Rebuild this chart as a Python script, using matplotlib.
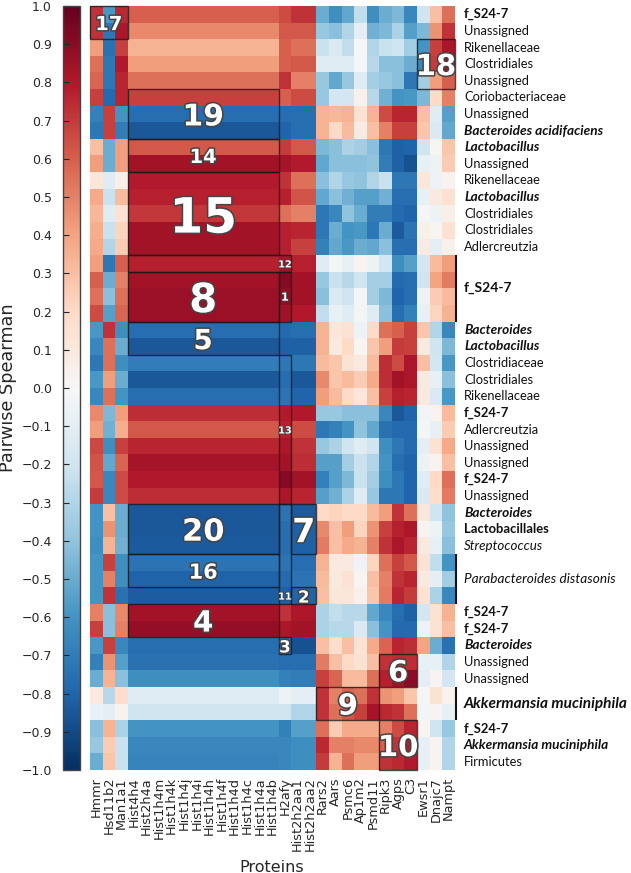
import matplotlib
matplotlib.use("Agg")
import matplotlib.pyplot as plt
import matplotlib.patheffects as pe
from matplotlib.patches import Rectangle
import numpy as np

proteins = ["Hmmr","Hsd11b2","Man1a1","Hist4h4","Hist2h4a","Hist1h4m","Hist1h4k","Hist1h4j","Hist1h4i","Hist1h4h",
            "Hist1h4f","Hist1h4d","Hist1h4c","Hist1h4a","Hist1h4b","H2afy","Hist2h2aa1","Hist2h2aa2","Rars2","Aars",
            "Psmc6","Ap1m2","Psmd11","Ripk3","Agps","C3","Ewsr1","Dnajc7","Nampt"]

taxa = ["f_S24-7","Unassigned","Rikenellaceae","Clostridiales","Unassigned","Coriobacteriaceae","Unassigned",
        "Bacteroides acidifaciens","Lactobacillus","Unassigned","Rikenellaceae","Lactobacillus","Clostridiales",
        "Clostridiales","Adlercreutzia","","","","","Bacteroides","Lactobacillus","Clostridiaceae","Clostridiales",
        "Rikenellaceae","f_S24-7","Adlercreutzia","Unassigned","Unassigned","f_S24-7","Unassigned","Bacteroides",
        "Lactobacillales","Streptococcus","","","","f_S24-7","f_S24-7","Bacteroides","Unassigned","Unassigned","","",
        "f_S24-7","Akkermansia muciniphila","Firmicutes"]
group_labels = ["f_S24-7","Parabacteroides distasonis","Akkermansia muciniphila"]
bold_taxa = ["f_S24-7","Lactobacillales"]
bold_italic_taxa = ["Bacteroides acidifaciens","Lactobacillus","Bacteroides","Akkermansia muciniphila"]
italic_taxa = ["Streptococcus"]

hmmr = [.72,.72,.42,.55,.58,.68,-.68,-.72,.30,.42,.12,.38,.33,.36,.38,.42,.60,.55,.65,-.58,-.65,-.72,-.58,-.65,.48,.42,.66,.63,.62,.70,-.60,-.60,-.62,-.60,-.60,-.60,.50,.68,-.58,-.68,-.50,.10,-.08,-.42,-.38,-.50]
hsd11b2 = [-.58,-.72,-.75,-.72,-.72,-.78,.68,.68,-.50,-.50,-.12,-.22,-.12,-.22,-.30,-.72,-.50,-.42,-.55,.72,.55,.55,.42,.55,-.45,-.48,-.62,-.52,-.65,-.65,.30,.45,.35,.68,.50,.72,-.42,-.42,.68,.45,.35,-.28,-.10,.35,.25,.28]
man1a1 = [.75,.82,.68,.80,.76,.76,-.60,-.70,.42,.42,.06,.32,.15,.22,.25,.60,.50,.55,.58,-.62,-.50,-.62,-.50,-.60,.42,.36,.68,.58,.65,.65,-.50,-.50,-.48,-.62,-.62,-.75,.48,.50,-.65,-.55,-.42,.18,.04,-.32,-.22,-.22]
hist_h4 = [.60,.48,.35,.42,.55,.68,-.76,-.85,.62,.84,.79,.78,.71,.84,.84,.78,.84,.86,.86,-.76,-.85,-.70,-.85,-.76,.74,.62,.76,.83,.80,.74,-.85,-.85,-.84,-.74,-.81,-.83,.84,.88,-.76,-.75,-.62,-.12,-.20,-.60,-.65,-.67]
h2afy = [.65,.62,.60,.60,.72,.60,-.76,-.80,.70,.83,.72,.78,.55,.78,.78,.83,.91,.89,.85,-.78,-.82,-.72,-.76,-.74,.79,.78,.82,.84,.91,.82,-.74,-.76,-.76,-.74,-.78,-.82,.72,.82,-.78,-.76,-.68,-.05,-.20,-.68,-.65,-.65]
hist2h2aa = [.72,.62,.55,.62,.50,.65,-.76,-.76,.62,.79,.55,.63,.50,.76,.68,.78,.84,.84,.80,-.76,-.82,-.72,-.85,-.80,.80,.65,.72,.74,.84,.76,-.84,-.82,-.82,-.76,-.74,-.80,.82,.84,-.87,-.76,-.70,-.10,-.30,-.55,-.62,-.62]
rars2 = [-.50,-.38,-.22,-.12,-.38,-.38,.35,.35,-.45,-.52,-.42,-.52,-.72,-.72,-.68,-.12,-.38,-.42,-.25,.35,.35,.32,.48,.42,-.38,-.72,-.38,-.55,-.68,-.55,.20,.48,.52,.35,.32,.30,-.32,-.32,.30,.52,.68,.72,.72,.55,.75,.70]
aars = [-.62,-.42,-.15,-.12,-.52,-.18,.33,.20,-.42,-.42,-.30,-.42,-.65,-.50,-.52,-.02,-.22,-.15,-.08,.12,.10,.28,.28,.32,-.38,-.68,-.32,-.55,-.55,-.48,.22,.30,.30,.10,.10,.12,-.25,-.28,.18,.30,.58,.50,.55,.25,.50,.35]
psmc6 = [-.52,-.30,-.25,-.12,-.38,-.18,.35,.32,-.32,-.42,-.38,-.48,-.40,-.60,-.58,-.08,-.28,-.20,-.12,.15,.20,.15,.32,.20,-.42,-.60,-.20,-.35,-.45,-.32,.20,.42,.38,.10,.15,.12,-.28,-.28,.30,.20,.32,.58,.62,.38,.50,.55]
ap1m2 = [-.25,-.10,.00,-.02,-.12,.05,.15,.08,-.35,-.42,-.40,-.55,-.50,-.58,-.50,.03,-.20,-.02,-.03,-.05,.02,.10,.25,.12,-.42,-.40,-.12,-.22,-.22,-.12,.20,.22,.35,-.04,.02,.05,-.28,-.15,.15,.15,.32,.55,.68,.38,.48,.42]
psmd11 = [-.62,-.48,-.30,-.28,-.35,-.28,.35,.30,-.42,-.40,-.30,-.55,-.70,-.72,-.52,-.05,-.35,-.35,-.12,.20,.28,.32,.38,.30,-.42,-.52,-.20,-.30,-.35,-.38,.32,.45,.50,.22,.30,.28,-.52,-.42,.38,.30,.55,.72,.83,.38,.48,.42]
ripk3 = [-.50,-.45,-.22,-.42,-.38,-.48,.65,.50,-.72,-.70,-.22,-.48,-.70,-.50,-.42,-.18,-.35,-.45,-.42,.55,.42,.74,.74,.68,-.65,-.75,-.62,-.60,-.62,-.72,.42,.68,.72,.55,.50,.52,-.65,-.60,.58,.72,.78,.45,.75,.50,.60,.72]
agps = [-.45,-.32,-.20,-.42,-.42,-.60,.76,.68,-.82,-.82,-.72,-.76,-.78,-.84,-.76,-.62,-.78,-.80,-.76,.60,.70,.65,.84,.78,-.85,-.78,-.72,-.76,-.72,-.72,.72,.78,.82,.68,.72,.76,-.76,-.78,.76,.74,.84,.42,.72,.65,.72,.75]
c3 = [-.65,-.55,-.35,-.50,-.72,-.58,.76,.68,-.80,-.87,-.72,-.76,-.80,-.74,-.76,-.55,-.76,-.76,-.68,.68,.68,.82,.82,.76,-.80,-.78,-.78,-.80,-.80,-.80,.55,.82,.76,.62,.76,.70,-.82,-.78,.74,.74,.90,.28,.55,.76,.79,.79]
ewsr1 = [-.20,-.45,-.60,-.65,-.35,-.45,.30,.28,-.20,-.08,.12,-.08,-.02,.06,.08,-.18,-.20,-.05,-.08,.28,.10,.30,.10,.10,-.03,-.02,-.10,-.05,-.12,-.15,.12,.03,.10,.15,.10,.15,-.18,-.06,.40,-.08,-.10,-.02,-.03,.02,-.08,-.08]
dnajc7 = [.30,.45,.68,.70,.42,.20,-.12,-.15,.02,-.05,-.06,.10,-.05,.02,-.10,.32,.40,.25,.22,-.30,-.20,-.18,-.08,-.15,.03,-.08,.15,.03,.20,.18,-.20,-.05,-.08,-.25,-.10,-.32,.15,.15,-.50,-.08,.03,.15,.03,-.20,.03,.03]
nampt = [.55,.72,.82,.85,.60,.50,-.55,-.52,.28,.25,.03,.15,.06,.15,.05,.42,.52,.32,.35,-.65,-.45,-.58,-.42,-.58,.32,.25,.38,.30,.55,.52,-.40,-.38,-.42,-.60,-.35,-.65,.35,.30,-.75,-.30,-.18,.04,-.08,-.38,-.30,-.30]

columns = [hmmr, hsd11b2, man1a1] + [hist_h4]*12 + [h2afy, hist2h2aa, hist2h2aa,
           rars2, aars, psmc6, ap1m2, psmd11, ripk3, agps, c3, ewsr1, dnajc7, nampt]
matrix = np.array(columns).T

W, H = 631, 873
fig = plt.figure(figsize=(W/100, H/100), dpi=100)
TXT = "#262626"

def axes_px(x0, y0, x1, y1):
    return fig.add_axes([x0/W, 1-y1/H, (x1-x0)/W, (y1-y0)/H])

ax = axes_px(90, 6, 454.7, 770)
mesh = ax.pcolormesh(np.arange(30), np.arange(47), matrix, cmap="RdBu_r", vmin=-1, vmax=1)
ax.set_xlim(0, 29)
ax.set_ylim(46, 0)
for s in ax.spines.values():
    s.set_visible(False)
ax.tick_params(length=0)
ax.set_yticks([])
ax.set_xticks(np.arange(29)+.5)
ax.set_xticklabels(proteins, rotation=90, fontsize=9.3, color=TXT, va="top", ha="center")
ax.tick_params(axis="x", pad=5)
fig.text(272/W, 1-867/H, "Proteins", fontsize=11.5, color=TXT, ha="center", va="center")

# colour bar
cax = axes_px(63, 6, 80, 770)
cb = fig.colorbar(mesh, cax=cax, ticks=np.arange(-10, 11)/10)
cax.yaxis.set_ticks_position("left")
cax.tick_params(axis="y", direction="in", length=4, width=.8, labelsize=9, labelcolor=TXT, color=TXT, pad=8)
cb.outline.set_edgecolor("#444444")
cb.outline.set_linewidth(1.0)
fig.text(17/W, 1-388/H, "Pairwise Spearman", rotation=90, fontsize=12.7, color=TXT, ha="right", va="center")

# cluster boxes: (label, col0, col1, row0, row1, fontsize)
boxes = [("17",0,3,0,2,14),("18",26,29,2,5,21),("19",3,15,5,8,21.5),("14",3,15,8,10,14),
         ("15",3,15,10,15,35),("12",3,16,15,16,7),("8",3,15,16,19,29),("1",15,16,16,19,8),
         ("5",3,15,19,21,20),("13",15,16,21,30,7),("20",3,15,30,33,22),("7",16,18,30,33,24),
         ("16",3,15,33,35,15),("11",15,16,30,36,7),("2",16,18,35,36,12),("4",3,15,36,38,21),
         ("3",15,16,38,39,12),("6",23,26,39,41,21),("9",18,23,41,43,21),("10",23,26,43,46,21)]
label_pos = {"12": (15.5, 15.5), "11": (15.5, 35.5)}
for name, c0, c1, r0, r1, fs in boxes:
    ax.add_patch(Rectangle((c0, r0), c1-c0, r1-r0, fill=False, ec="#1a1a1a", lw=1.0, alpha=.8, zorder=3, clip_on=False))
    x, y = label_pos.get(name, ((c0+c1)/2, (r0+r1)/2))
    ax.text(x, y, name, color="white", fontsize=fs, fontweight="bold", ha="center", va="center_baseline", zorder=4,
            path_effects=[pe.withStroke(linewidth=1.2 if fs < 10 else 2.2, foreground="#444444")])

# row labels
sizes = {"regular": 9.3, "bold": 9.4, "bolditalic": 9.8, "italic": 9.6}
for i, t in enumerate(taxa):
    if not t:
        continue
    if t in bold_italic_taxa:
        weight, style, fs = "bold", "italic", sizes["bolditalic"]
    elif t in bold_taxa:
        weight, style, fs = "bold", "normal", sizes["bold"]
    elif t in italic_taxa:
        weight, style, fs = "normal", "italic", sizes["italic"]
    else:
        weight, style, fs = "normal", "normal", sizes["regular"]
    ax.text(29.74, i+.5, t, fontsize=fs, family="Lato", fontweight=weight, fontstyle=style,
            color="#111111", ha="left", va="center", clip_on=False)

# grouped labels with side bars
spans = [(15, 19, 10.0, "bold", "normal"), (33, 36, 9.8, "normal", "italic"), (41, 43, 11.1, "bold", "italic")]
for lab, (r0, r1, fs, w, st) in zip(group_labels, spans):
    ax.plot([29.08, 29.08], [r0, r1], color="#111111", lw=1.5, clip_on=False, solid_capstyle="butt")
    ax.text(29.74, (r0+r1)/2, lab, fontsize=fs, family="Lato", fontweight=w, fontstyle=st,
            color="#111111", ha="left", va="center", clip_on=False)

fig.savefig("out.png", dpi=100)
